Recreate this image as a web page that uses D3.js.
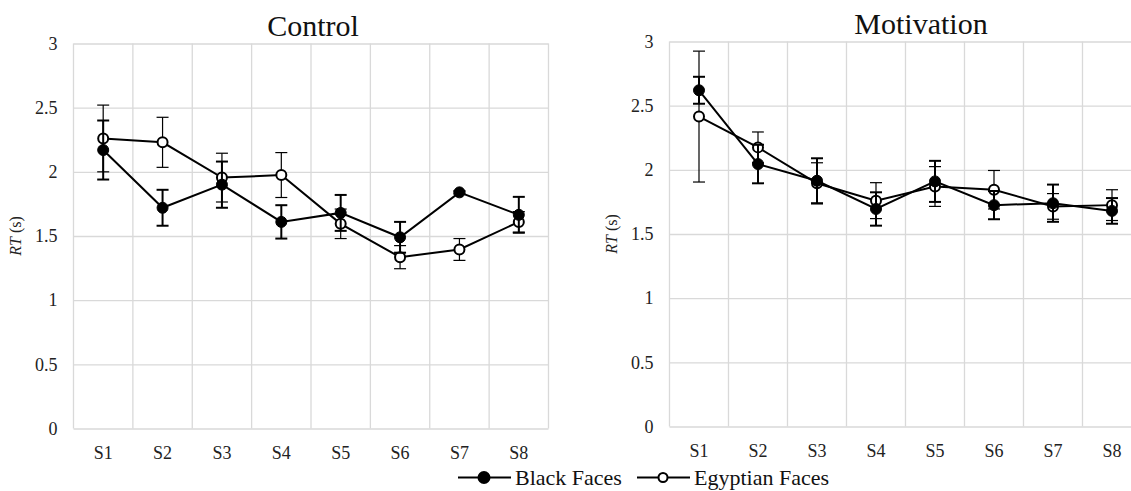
<!DOCTYPE html>
<html>
<head>
<meta charset="utf-8">
<script src="https://cdn.jsdelivr.net/npm/d3@7"></script>
<style>
  body { margin: 0; background: #fff; }
  svg { display: block; }
  svg text { font-family: "Liberation Serif", "Times New Roman", Times, "DejaVu Serif", serif !important; }
</style>
</head>
<body>
<svg id="chart" width="1131" height="491"></svg>
<script>
// sessions and tick values
const sessions = ["S1", "S2", "S3", "S4", "S5", "S6", "S7", "S8"];
const yTicks = [0, 0.5, 1, 1.5, 2, 2.5, 3];

// Control condition (mean RT and error)
const controlBlack = [2.17, 1.72, 1.90, 1.61, 1.68, 1.49, 1.84, 1.665];
const controlBlackErr = [0.23, 0.14, 0.18, 0.13, 0.14, 0.12, 0.01, 0.14];
const controlEgypt = [2.26, 2.23, 1.955, 1.975, 1.595, 1.335, 1.395, 1.61];
const controlEgyptErr = [0.26, 0.195, 0.19, 0.175, 0.115, 0.09, 0.085, 0.08];

// Motivation condition
const motivBlack = [2.62, 2.045, 1.915, 1.695, 1.91, 1.725, 1.74, 1.68];
const motivBlackErr = [0.105, 0.15, 0.175, 0.13, 0.16, 0.11, 0.145, 0.10];
const motivEgypt = [2.415, 2.175, 1.895, 1.76, 1.87, 1.845, 1.715, 1.725];
const motivEgyptErr = [0.51, 0.12, 0.16, 0.14, 0.155, 0.15, 0.10, 0.12];

const svg = d3.select("#chart");
const grid = "#d9d9d9";
const serif = "'Liberation Serif', 'Times New Roman', Times, 'DejaVu Serif', serif";

function panel(opt) {
    const x = d3.scaleBand().domain(sessions).range([opt.left, opt.right]);
    const y = d3.scaleLinear().domain([0, 3]).range([opt.bottom, opt.top]);
    const g = svg.append("g").attr("font-family", serif);

    // horizontal grid lines + y labels
    const yAxis = d3.axisLeft(y).tickValues(yTicks).tickSize(-(opt.right - opt.left))
        .tickPadding(16).tickFormat(d3.format("~g"));
    const ya = g.append("g").attr("transform", "translate(" + opt.left + ",0)").call(yAxis)
        .attr("font-family", serif);
    ya.select(".domain").remove();
    ya.selectAll("line").attr("stroke", grid).attr("stroke-width", 1.3);
    ya.selectAll("text").attr("font-size", 18).attr("fill", "#222");

    // vertical grid lines at band edges
    const edges = sessions.map(s => x(s)).concat([opt.right]);
    g.selectAll(".vg").data(edges).enter().append("line")
        .attr("x1", d => d).attr("x2", d => d)
        .attr("y1", opt.top).attr("y2", opt.bottom)
        .attr("stroke", grid).attr("stroke-width", 1.3);

    // x labels
    const xAxis = d3.axisBottom(x).tickSize(0).tickPadding(18);
    const xa = g.append("g").attr("transform", "translate(0," + opt.bottom + ")").call(xAxis)
        .attr("font-family", serif);
    xa.select(".domain").remove();
    xa.selectAll("text").attr("font-size", 18).attr("fill", "#222");

    // title
    g.append("text").attr("x", opt.titleX).attr("y", opt.top - 8)
        .attr("text-anchor", "middle").attr("font-size", 30).attr("fill", "#111")
        .text(opt.title);

    // y axis title
    const yt = g.append("text")
        .attr("transform", "translate(" + opt.yTitleX + "," + (opt.top + opt.bottom) / 2 + ") rotate(-90)")
        .attr("text-anchor", "middle").attr("font-size", 16).attr("fill", "#222");
    yt.append("tspan").attr("font-style", "italic").text("RT");
    yt.append("tspan").text(" (s)");

    const cx = (d, i) => x(sessions[i]) + x.bandwidth() / 2;
    const line = d3.line().x(cx).y(d => y(d));

    function series(vals, errs, filled) {
        const sw = filled ? 2 : 1.2;
        // error bars
        const eb = g.append("g").attr("stroke", "#000").attr("stroke-width", sw);
        vals.forEach((v, i) => {
            const px = cx(v, i);
            const y1 = y(v + errs[i]), y2 = y(v - errs[i]);
            eb.append("line").attr("x1", px).attr("x2", px).attr("y1", y1).attr("y2", y2);
            eb.append("line").attr("x1", px - 6).attr("x2", px + 6).attr("y1", y1).attr("y2", y1);
            eb.append("line").attr("x1", px - 6).attr("x2", px + 6).attr("y1", y2).attr("y2", y2);
        });
        g.append("path").datum(vals).attr("d", line)
            .attr("fill", "none").attr("stroke", "#000").attr("stroke-width", 2);
        g.selectAll(null).data(vals).enter().append("circle")
            .attr("cx", cx).attr("cy", d => y(d)).attr("r", filled ? 5.5 : 5)
            .attr("fill", filled ? "#000" : "#fff")
            .attr("stroke", "#000").attr("stroke-width", filled ? 1 : 2);
    }
    series(opt.egypt, opt.egyptErr, false);
    series(opt.black, opt.blackErr, true);
}

panel({
    left: 73.5, right: 548.5, top: 43.5, bottom: 428.5,
    title: "Control", titleX: 313, yTitleX: 21,
    black: controlBlack, blackErr: controlBlackErr,
    egypt: controlEgypt, egyptErr: controlEgyptErr
});
panel({
    left: 669.5, right: 1141.5, top: 41.5, bottom: 426.5,
    title: "Motivation", titleX: 921, yTitleX: 617,
    black: motivBlack, blackErr: motivBlackErr,
    egypt: motivEgypt, egyptErr: motivEgyptErr
});

// legend
const legend = [
    { name: "Black Faces", x: 458, filled: true },
    { name: "Egyptian Faces", x: 637, filled: false }
];
const lg = svg.append("g").attr("font-family", serif);
legend.forEach(l => {
    lg.append("line").attr("x1", l.x).attr("x2", l.x + 53).attr("y1", 477.5).attr("y2", 477.5)
        .attr("stroke", "#000").attr("stroke-width", 2);
    lg.append("circle").attr("cx", l.x + 26).attr("cy", 477.5).attr("r", l.filled ? 5.5 : 4.5)
        .attr("fill", l.filled ? "#000" : "#fff").attr("stroke", "#000").attr("stroke-width", 2);
    lg.append("text").attr("x", l.x + 57).attr("y", 485).attr("font-size", 22).attr("fill", "#111")
        .text(l.name);
});
</script>
</body>
</html>
